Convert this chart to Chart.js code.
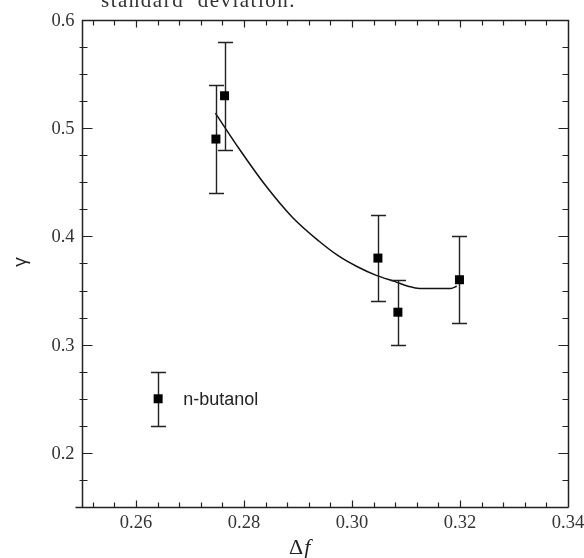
<!DOCTYPE html>
<html>
<head>
<meta charset="utf-8">
<script src="https://cdn.jsdelivr.net/npm/chart.js@4.4.0/dist/chart.umd.min.js"></script>
<style>
  html, body { margin: 0; padding: 0; background: #fff; }
  #wrap { width: 584px; height: 558px; position: relative; }
</style>
</head>
<body>
<div id="wrap"><canvas id="gammaChart" width="584" height="558"></canvas></div>
<script>
// measured points
const dfValues = [0.2748, 0.2764, 0.3048, 0.3085, 0.3199];
const gammaValues = [0.49, 0.53, 0.38, 0.33, 0.36];
const gammaErrors = [0.05, 0.05, 0.04, 0.03, 0.04];

// fitted curve
const fitDf = [0.2747, 0.2791, 0.2840, 0.2889, 0.2938, 0.2975, 0.3010, 0.3045, 0.3081, 0.3104, 0.3125, 0.3183, 0.3194];
const fitGamma = [0.514, 0.481, 0.447, 0.418, 0.396, 0.382, 0.372, 0.364, 0.358, 0.354, 0.352, 0.352, 0.354];

// legend symbol
const legendDf = [0.2641];
const legendGamma = [0.25];
const legendError = [0.025];
const legendText = 'n-butanol';

// axes
const xTicks = [0.26, 0.28, 0.30, 0.32, 0.34];
const xTickLabels = ['0.26', '0.28', '0.30', '0.32', '0.34'];
const yTicks = [0.2, 0.3, 0.4, 0.5, 0.6];
const yTickLabels = ['0.2', '0.3', '0.4', '0.5', '0.6'];
const xMinorStep = 0.004;
const yMinorStep = 0.025;

const ink = '#222';

const toPoints = (xs, ys) => xs.map((x, i) => ({ x: x, y: ys[i] }));

const errorBars = {
  id: 'errorBars',
  afterDatasetsDraw(chart) {
    const ctx = chart.ctx;
    const xs = chart.scales.x;
    const ys = chart.scales.y;
    const sets = [
      [dfValues, gammaValues, gammaErrors],
      [legendDf, legendGamma, legendError]
    ];
    ctx.save();
    ctx.strokeStyle = ink;
    ctx.lineWidth = 1.4;
    sets.forEach(([px, py, pe]) => {
      px.forEach((x, i) => {
        const cx = Math.round(xs.getPixelForValue(x)) + 0.5;
        const top = Math.round(ys.getPixelForValue(py[i] + pe[i])) + 0.5;
        const bot = Math.round(ys.getPixelForValue(py[i] - pe[i])) + 0.5;
        ctx.beginPath();
        ctx.moveTo(cx, top); ctx.lineTo(cx, bot);
        ctx.moveTo(cx - 7.5, top); ctx.lineTo(cx + 7.5, top);
        ctx.moveTo(cx - 7.5, bot); ctx.lineTo(cx + 7.5, bot);
        ctx.stroke();
      });
    });
    // markers on top of the bars
    ctx.fillStyle = '#000';
    const allX = dfValues.concat(legendDf);
    const allY = gammaValues.concat(legendGamma);
    allX.forEach((x, i) => {
      const cx = xs.getPixelForValue(x);
      const cy = ys.getPixelForValue(allY[i]);
      ctx.fillRect(cx - 4.5, cy - 4.5, 9, 9);
    });
    ctx.restore();
  }
};

const frame = {
  id: 'frame',
  afterDraw(chart) {
    const ctx = chart.ctx;
    const a = chart.chartArea;
    const xs = chart.scales.x;
    const ys = chart.scales.y;
    const L = Math.round(a.left) + 0.5, R = Math.round(a.right) + 0.5;
    const T = Math.round(a.top) + 0.5, B = Math.round(a.bottom) + 0.5;
    ctx.save();
    ctx.strokeStyle = ink;
    ctx.lineWidth = 1.5;
    ctx.beginPath();
    ctx.moveTo(L - 7, B); ctx.lineTo(R, B);
    ctx.moveTo(L, B); ctx.lineTo(L, T); ctx.lineTo(R, T); ctx.lineTo(R, B);
    ctx.stroke();

    ctx.lineWidth = 1.2;
    ctx.beginPath();
    // x ticks, bottom and top, pointing inward
    for (let k = 1; xs.min + k * xMinorStep <= xs.max + 1e-9; k++) {
      const val = xs.min + k * xMinorStep - 0.002;
      const isMajor = xTicks.some(t => Math.abs(t - val) < 1e-6);
      const px = Math.round(xs.getPixelForValue(val)) + 0.5;
      const len = isMajor ? 7 : 5;
      ctx.moveTo(px, B); ctx.lineTo(px, B - len);
      ctx.moveTo(px, T); ctx.lineTo(px, T + len);
    }
    // y ticks
    for (let k = 1; ys.min + k * yMinorStep <= ys.max + 1e-9; k++) {
      const val = ys.min + k * yMinorStep;
      const isMajor = yTicks.some(t => Math.abs(t - val) < 1e-6);
      const py = Math.round(ys.getPixelForValue(val)) + 0.5;
      if (isMajor) {
        ctx.moveTo(L, py); ctx.lineTo(L + 10, py);
        ctx.moveTo(R, py); ctx.lineTo(R - 10, py);
      } else {
        ctx.moveTo(L - 3, py); ctx.lineTo(L + 5, py);
        ctx.moveTo(R, py); ctx.lineTo(R - 6, py);
      }
    }
    ctx.stroke();

    // tick labels
    ctx.fillStyle = '#333';
    ctx.font = '18.5px "Liberation Serif", "Times New Roman", serif';
    ctx.textAlign = 'center';
    ctx.textBaseline = 'middle';
    xTicks.forEach((t, i) => {
      ctx.fillText(xTickLabels[i], xs.getPixelForValue(t), B + 16);
    });
    ctx.textAlign = 'right';
    yTicks.forEach((t, i) => {
      ctx.fillText(yTickLabels[i], L - 8, ys.getPixelForValue(t) + 1);
    });

    // axis titles
    ctx.fillStyle = ink;
    ctx.textAlign = 'left';
    ctx.textBaseline = 'alphabetic';
    ctx.font = '22px "Liberation Serif", serif';
    const dx = 289;
    ctx.fillText('\u0394', dx, 554);
    const dw = ctx.measureText('\u0394').width;
    ctx.font = 'italic 22px "Liberation Serif", serif';
    ctx.fillText('f', dx + dw + 1, 554);

    ctx.save();
    ctx.translate(21, 262);
    ctx.rotate(-Math.PI / 2);
    ctx.font = '19px "Liberation Sans", Arial, sans-serif';
    ctx.textAlign = 'center';
    ctx.textBaseline = 'middle';
    ctx.fillText('\u03B3', 0, 0);
    ctx.restore();

    // legend text
    ctx.font = '18px "Liberation Sans", Arial, sans-serif';
    ctx.textAlign = 'left';
    ctx.textBaseline = 'middle';
    ctx.fillText(legendText, xs.getPixelForValue(legendDf[0]) + 25, ys.getPixelForValue(legendGamma[0]) + 1);

    // clipped caption above the plot
    ctx.font = '21px "Liberation Serif", serif';
    ctx.fillStyle = '#333';
    ctx.textBaseline = 'alphabetic';
    ctx.letterSpacing = '1.5px';
    ctx.fillText('standard  deviation.', 101, 7);
    ctx.restore();
  }
};

const whiteBg = {
  id: 'whiteBg',
  beforeDraw(chart) {
    const ctx = chart.ctx;
    ctx.save();
    ctx.fillStyle = '#fff';
    ctx.fillRect(0, 0, chart.width, chart.height);
    ctx.restore();
  }
};

new Chart(document.getElementById('gammaChart').getContext('2d'), {
  type: 'scatter',
  data: {
    datasets: [
      {
        label: 'fit',
        data: toPoints(fitDf, fitGamma),
        showLine: true,
        borderColor: '#111',
        borderWidth: 1.5,
        pointRadius: 0,
        cubicInterpolationMode: 'monotone'
      },
      {
        label: 'n-butanol',
        data: toPoints(dfValues, gammaValues),
        pointStyle: 'rect',
        pointRadius: 0,
        backgroundColor: '#000'
      },
      {
        label: 'legend',
        data: toPoints(legendDf, legendGamma),
        pointStyle: 'rect',
        pointRadius: 0,
        backgroundColor: '#000'
      }
    ]
  },
  options: {
    responsive: false,
    animation: false,
    layout: { padding: { left: 82, right: 16, top: 20, bottom: 51 } },
    plugins: { legend: { display: false }, tooltip: { enabled: false } },
    scales: {
      x: { type: 'linear', min: 0.25, max: 0.34, display: false },
      y: { type: 'linear', min: 0.15, max: 0.6, display: false }
    }
  },
  plugins: [whiteBg, errorBars, frame]
});
</script>
</body>
</html>
